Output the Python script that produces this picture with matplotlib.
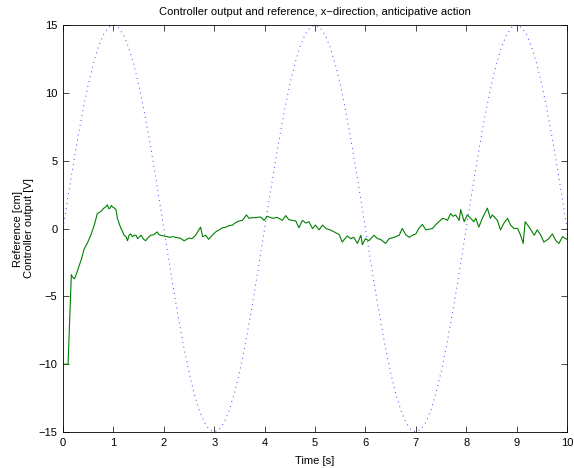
import matplotlib
matplotlib.use("Agg")
import matplotlib.pyplot as plt

plt.rcParams["font.family"] = ["Liberation Sans", "DejaVu Sans"]
plt.rcParams["font.size"] = 8

# reference signal, read every 0.1 s
ref_t = [i / 10 for i in range(101)]
ref_v = [0, 2.35, 4.64, 6.81, 8.82, 10.61, 12.14, 13.37, 14.27, 14.82,
         15.0, 14.82, 14.27, 13.37, 12.14, 10.61, 8.82, 6.81, 4.64, 2.35,
         0, -2.35, -4.64, -6.81, -8.82, -10.61, -12.14, -13.37, -14.27, -14.82,
         -15.0, -14.82, -14.27, -13.37, -12.14, -10.61, -8.82, -6.81, -4.64, -2.35,
         0, 2.35, 4.64, 6.81, 8.82, 10.61, 12.14, 13.37, 14.27, 14.82,
         15.0, 14.82, 14.27, 13.37, 12.14, 10.61, 8.82, 6.81, 4.64, 2.35,
         0, -2.35, -4.64, -6.81, -8.82, -10.61, -12.14, -13.37, -14.27, -14.82,
         -15.0, -14.82, -14.27, -13.37, -12.14, -10.61, -8.82, -6.81, -4.64, -2.35,
         0, 2.35, 4.64, 6.81, 8.82, 10.61, 12.14, 13.37, 14.27, 14.82,
         15.0, 14.82, 14.27, 13.37, 12.14, 10.61, 8.82, 6.81, 4.64, 2.35,
         0]

# controller output
u_t = [0.00, 0.10, 0.165, 0.19, 0.23, 0.27, 0.32, 0.37, 0.42, 0.48,
       0.55, 0.62, 0.68, 0.75, 0.81, 0.85, 0.88, 0.91, 0.93, 0.96,
       0.98, 1.02, 1.05, 1.08, 1.12, 1.15, 1.18, 1.21, 1.25, 1.28,
       1.31, 1.34, 1.38, 1.41, 1.45, 1.48, 1.52, 1.55, 1.60, 1.64,
       1.68, 1.74, 1.80, 1.87, 1.90, 1.94, 2.00, 2.07, 2.12, 2.18,
       2.27, 2.33, 2.40, 2.43, 2.50, 2.56, 2.63, 2.68, 2.73, 2.77,
       2.83, 2.89, 2.96, 3.03, 3.10, 3.16, 3.23, 3.29, 3.36, 3.43,
       3.49, 3.56, 3.64, 3.69, 3.76, 3.82, 3.92, 3.99, 4.05, 4.16,
       4.25, 4.35, 4.42, 4.48, 4.55, 4.62, 4.68, 4.75, 4.82, 4.88,
       4.95, 5.01, 5.08, 5.15, 5.22, 5.30, 5.38, 5.48, 5.54, 5.64,
       5.71, 5.77, 5.84, 5.91, 5.94, 6.00, 6.07, 6.17, 6.24, 6.30,
       6.40, 6.47, 6.57, 6.67, 6.73, 6.80, 6.87, 6.93, 7.00, 7.06,
       7.13, 7.20, 7.26, 7.33, 7.40, 7.46, 7.53, 7.58, 7.63, 7.69,
       7.74, 7.79, 7.86, 7.89, 7.96, 8.02, 8.09, 8.15, 8.19, 8.25,
       8.32, 8.42, 8.48, 8.52, 8.62, 8.68, 8.75, 8.82, 8.88, 8.95,
       9.02, 9.08, 9.13, 9.17, 9.25, 9.35, 9.41, 9.48, 9.54, 9.64,
       9.71, 9.78, 9.84, 9.91, 10.0]
u_v = [-10.0, -10.0, -3.4, -3.6, -3.7, -3.3, -2.75, -2.2, -1.5, -1.1,
       -0.5, 0.25, 1.1, 1.25, 1.5, 1.6, 1.75, 1.45, 1.5, 1.7,
       1.6, 1.5, 1.4, 0.75, 0.3, 0.0, -0.2, -0.5, -0.6, -0.9,
       -0.5, -0.4, -0.6, -0.5, -0.5, -0.75, -0.6, -0.5, -0.8, -0.9,
       -0.7, -0.5, -0.45, -0.25, -0.45, -0.5, -0.55, -0.6, -0.65, -0.6,
       -0.68, -0.72, -0.9, -0.85, -0.7, -0.75, -0.5, -0.2, 0.1, -0.6,
       -0.5, -0.8, -0.5, -0.25, -0.1, 0.05, 0.1, 0.2, 0.25, 0.45,
       0.55, 0.6, 1.0, 0.75, 0.8, 0.8, 0.85, 0.6, 0.9, 0.75,
       0.82, 0.6, 0.95, 0.65, 0.6, 0.55, 0.05, 0.6, 0.4, 0.5,
       0.0, 0.25, -0.1, 0.25, 0.0, -0.1, -0.25, -0.45, -1.0, -0.55,
       -0.75, -0.65, -1.1, -0.5, -1.2, -0.75, -0.9, -0.5, -0.75, -0.8,
       -1.1, -0.75, -0.65, -0.5, 0.0, -0.45, -0.65, -0.5, -0.4, 0.0,
       0.3, -0.1, -0.05, 0.0, 0.3, 0.5, 0.75, 0.7, 0.6, 1.1,
       0.9, 1.0, 0.6, 1.4, 0.5, 1.0, 0.75, 0.5, 0.75, 0.1,
       0.75, 1.5, 0.75, 1.0, 0.6, -0.1, 0.4, 0.75, 0.25, 0.0,
       0.0, -0.5, -1.1, 0.5, 0.1, -0.5, -0.1, -0.5, -1.0, -0.75,
       -0.4, -0.9, -1.1, -0.6, -0.8]

fig = plt.figure(figsize=(5.74, 4.68), dpi=100)
ax = fig.add_axes([0.1098, 0.0769, 0.878, 0.8697])

ax.plot(ref_t, ref_v, color="blue", linestyle=(0, (1, 4.1)), linewidth=0.7, alpha=0.75)
ax.plot(u_t, u_v, color="green", linewidth=0.8)

ax.set_xlim(0, 10)
ax.set_ylim(-15, 15)
ax.set_xticks(range(0, 11))
ax.set_yticks(range(-15, 16, 5))
ax.tick_params(direction="in", length=4, width=0.5, top=True, right=True, pad=4)
for s in ax.spines.values():
    s.set_linewidth(0.6)

ax.set_title("Controller output and reference, x\u2212direction, anticipative action", fontsize=8, pad=7)
ax.set_xlabel("Time [s]", labelpad=6)
ax.set_ylabel("Reference [cm]\nController output [V]", labelpad=3)

fig.savefig("out.png", dpi=100)
